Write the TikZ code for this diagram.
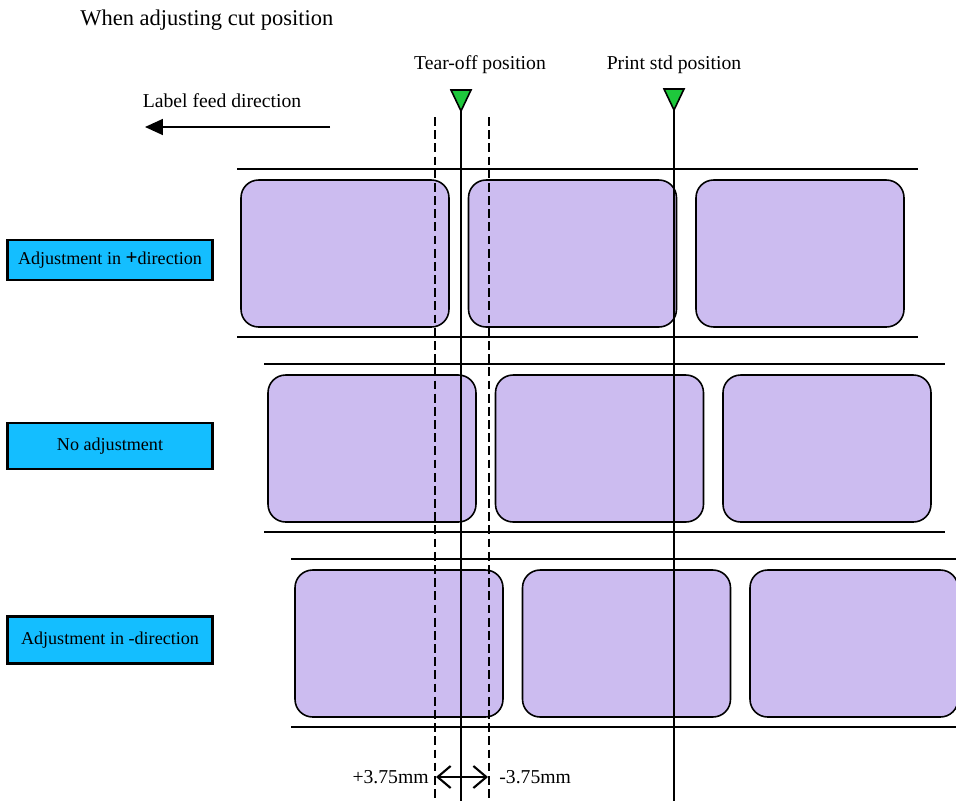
\documentclass[tikz,border=0pt]{standalone}
\usepackage{fontspec}
\setmainfont{Liberation Serif}
\usetikzlibrary{calc, positioning}
\usetikzlibrary{arrows.meta}
\usetikzlibrary{shadows}

\definecolor{labelfill}{RGB}{204,188,240}
\definecolor{modefill}{RGB}{20,190,255}
\definecolor{markgreen}{RGB}{30,200,60}

\tikzset{
  labelbox/.style={draw, line width=0.9pt, fill=labelfill, rounded corners=10pt,
    minimum width=4.16cm, minimum height=2.94cm, inner sep=0pt},
  modebox/.style={draw, line width=1.3pt, fill=modefill, minimum width=4.1cm,
    inner sep=0pt, font=\fontsize{10.3}{12}\selectfont,
    drop shadow={shadow xshift=0.6pt, shadow yshift=-0.6pt, fill=black!35}},
  liner/.style={line width=0.9pt},
  txt/.style={font=\fontsize{11.2}{13}\selectfont, inner sep=0pt},
}

\begin{document}
\begin{tikzpicture}[x=0.02cm, y=-0.02cm]
\useasboundingbox (0,0) rectangle (956,801);

\coordinate (T) at (461,111);
\coordinate (P) at (674,110);

\node[txt, anchor=west, font=\fontsize{12.8}{15}\selectfont] (title) at (80,20) {When adjusting cut position};
\node[txt] (feed) at (222,101) {Label feed direction};
\coordinate (feedR) at (330,127);
\coordinate (feedL) at (145,127);
\draw[-{Triangle[length=0.36cm, width=0.32cm]}, line width=1pt] (feedR) -- (feedL);

\node[txt] (tear) at (480,65) {Tear-off position};
\node[txt] (print) at (674,65) {Print std position};

% label rows: offset x, offset y, row name
\foreach \ox/\oy/\r in {241/180/1, 268/375/2, 295/570/3} {
  \draw[liner] (\ox-4,\oy-11) -- (\ox+677,\oy-11);
  \draw[liner] (\ox-4,\oy+157) -- (\ox+677,\oy+157);
  \foreach \k in {0,1,2} {
    \node[labelbox] (lab\r\k) at (\ox+104+227.5*\k,\oy+73.5) {};
  }
}

\node[modebox, minimum height=0.8cm] (plus) at (110,260) {Adjustment in \textbf{\large+}direction};
\node[modebox, minimum height=0.92cm] (none) at (110,446) {No adjustment};
\node[modebox, minimum height=0.94cm] (minus) at (110,640) {Adjustment in -direction};

% cut lines
\draw[dashed, liner, dash pattern=on 5pt off 2.5pt] (435,117) -- (435,801);
\draw[dashed, liner, dash pattern=on 5pt off 2.5pt] (489,117) -- (489,801);
\draw[liner] (T) -- (461,801);
\draw[liner] (P) -- (674,801);

\filldraw[fill=markgreen, line width=0.9pt] (T) -- ++(-10,-21) -- ++(20,0) -- cycle;
\filldraw[fill=markgreen, line width=0.9pt] (P) -- ++(-10,-21) -- ++(20,0) -- cycle;

\coordinate (dimL) at (436,777);
\coordinate (dimR) at (488,777);
\draw[{Straight Barb[length=0.26cm, width=0.44cm]}-{Straight Barb[length=0.26cm, width=0.44cm]}, line width=1.2pt] (dimL) -- (dimR);
\node[txt, anchor=east] (pos) at (429,777) {+3.75mm};
\node[txt, anchor=west] (neg) at (499,777) {-3.75mm};
\end{tikzpicture}
\end{document}
